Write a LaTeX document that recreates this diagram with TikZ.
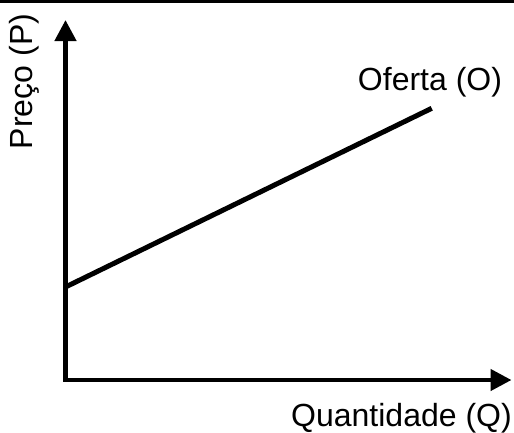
\documentclass[tikz,border=0pt]{standalone}
\usepackage{fontspec}
\setmainfont{Liberation Sans}
\usetikzlibrary{arrows.meta}
\begin{document}
\begin{tikzpicture}[x=1pt,y=-1pt,
  lbl/.style={font=\fontsize{32}{38}\selectfont, inner sep=0pt, anchor=base},
  axisline/.style={line width=4.5pt, line join=miter, {Triangle[width=21pt,length=21pt]}-{Triangle[width=21pt,length=21pt]}},
  supply/.style={line width=5pt},
  topline/.style={line width=3pt}]
\useasboundingbox (0,0) rectangle (514,432);
\coordinate (TL) at (0,1);
\coordinate (TR) at (514,1);
\draw[topline] (TL) -- (TR);
\coordinate (O) at (65.5,380);
\coordinate (ytip) at (65.5,20);
\coordinate (xtip) at (511.5,380);
\draw[axisline] (ytip) -- (O) -- (xtip);
\coordinate (S1) at (65.5,287);
\coordinate (S2) at (431.7,108.3);
\draw[supply] (S1) -- (S2);
\node[lbl] (oferta) at (430,90) {Oferta (O)};
\node[lbl] (quant) at (401.5,426.5) {Quantidade (Q)};
\node[lbl, rotate=90] (preco) at (32,81.5) {Preço (P)};
\end{tikzpicture}
\end{document}
